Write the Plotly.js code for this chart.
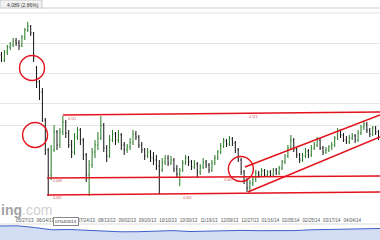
<!DOCTYPE html>
<html><head><meta charset="utf-8">
<script src="https://cdn.plot.ly/plotly-3.0.1.min.js"></script>
<style>html,body{margin:0;padding:0;background:#fff}#chart{width:380px;height:240px}</style>
</head><body><div id="chart"></div>
<script>
// ---- price bars (open/high/low/close) ----
const openP = [4.171,4.166,4.174,4.179,4.181,4.185,4.183,4.180,4.189,4.196,
4.200,4.193,4.158,4.144,4.134,4.106,4.076,4.051,4.076,4.094,
4.081,4.094,4.104,4.093,4.081,4.074,4.089,4.096,4.086,4.071,
4.051,4.061,4.074,4.081,4.088,4.101,4.078,4.070,4.086,4.092,
4.086,4.091,4.081,4.076,4.079,4.084,4.092,4.089,4.081,4.076,
4.070,4.074,4.068,4.066,4.060,4.056,4.064,4.068,4.063,4.066,
4.057,4.052,4.056,4.063,4.068,4.064,4.059,4.062,4.054,4.059,
4.064,4.061,4.056,4.063,4.068,4.074,4.080,4.085,4.082,4.087,
4.083,4.076,4.066,4.054,4.045,4.038,4.043,4.047,4.053,4.051,
4.055,4.051,4.054,4.051,4.056,4.053,4.058,4.064,4.070,4.078,
4.086,4.077,4.071,4.066,4.070,4.075,4.071,4.078,4.081,4.086,
4.078,4.074,4.076,4.079,4.081,4.088,4.095,4.091,4.086,4.084,
4.088,4.090,4.086,4.093,4.099,4.102,4.096,4.092,4.098,4.094];
const highP = [4.174,4.176,4.181,4.184,4.188,4.188,4.186,4.191,4.198,4.204,
4.201,4.194,4.160,4.146,4.138,4.108,4.078,4.081,4.101,4.096,
4.098,4.110,4.106,4.096,4.086,4.093,4.099,4.098,4.088,4.073,
4.066,4.078,4.086,4.094,4.110,4.103,4.081,4.091,4.096,4.094,
4.096,4.093,4.084,4.082,4.088,4.096,4.095,4.091,4.084,4.078,
4.078,4.076,4.074,4.071,4.066,4.068,4.071,4.071,4.070,4.068,
4.061,4.058,4.066,4.071,4.070,4.066,4.066,4.064,4.062,4.068,
4.066,4.063,4.066,4.071,4.076,4.083,4.088,4.087,4.090,4.089,
4.085,4.078,4.068,4.056,4.048,4.046,4.050,4.056,4.055,4.058,
4.057,4.056,4.056,4.058,4.058,4.060,4.066,4.072,4.081,4.091,
4.088,4.079,4.073,4.073,4.078,4.077,4.081,4.084,4.089,4.088,
4.080,4.079,4.081,4.084,4.090,4.098,4.097,4.093,4.090,4.091,
4.093,4.092,4.096,4.101,4.104,4.104,4.098,4.100,4.100,4.096];
const lowP = [4.164,4.164,4.171,4.176,4.179,4.180,4.176,4.179,4.186,4.194,
4.190,4.164,4.138,4.126,4.104,4.071,4.030,4.046,4.074,4.076,
4.078,4.091,4.088,4.078,4.068,4.071,4.086,4.081,4.066,4.044,
4.030,4.058,4.068,4.076,4.086,4.074,4.064,4.068,4.084,4.081,
4.083,4.076,4.071,4.073,4.076,4.081,4.086,4.078,4.073,4.066,
4.068,4.064,4.061,4.056,4.032,4.054,4.061,4.060,4.061,4.054,
4.048,4.040,4.054,4.061,4.060,4.056,4.057,4.048,4.051,4.057,
4.058,4.053,4.054,4.061,4.066,4.072,4.078,4.079,4.080,4.080,
4.073,4.064,4.051,4.042,4.034,4.035,4.040,4.044,4.048,4.049,
4.049,4.049,4.049,4.050,4.051,4.051,4.056,4.062,4.068,4.076,
4.074,4.068,4.063,4.064,4.068,4.068,4.069,4.076,4.079,4.076,
4.071,4.072,4.074,4.076,4.079,4.086,4.088,4.084,4.082,4.082,
4.086,4.083,4.084,4.091,4.096,4.093,4.089,4.090,4.091,4.086];
const closeP = [4.166,4.174,4.179,4.181,4.185,4.183,4.180,4.189,4.196,4.200,
4.193,4.168,4.144,4.134,4.122,4.076,4.051,4.076,4.094,4.081,
4.094,4.104,4.093,4.081,4.074,4.089,4.096,4.086,4.071,4.051,
4.061,4.074,4.081,4.088,4.101,4.078,4.070,4.086,4.092,4.086,
4.091,4.081,4.076,4.079,4.084,4.092,4.089,4.081,4.076,4.070,
4.074,4.068,4.066,4.060,4.056,4.064,4.068,4.063,4.066,4.057,
4.052,4.056,4.063,4.068,4.064,4.059,4.062,4.054,4.059,4.064,
4.061,4.056,4.063,4.068,4.074,4.080,4.085,4.082,4.087,4.083,
4.076,4.066,4.054,4.045,4.038,4.043,4.047,4.053,4.051,4.055,
4.051,4.054,4.051,4.056,4.053,4.058,4.064,4.070,4.078,4.086,
4.077,4.071,4.066,4.070,4.075,4.071,4.078,4.081,4.086,4.078,
4.074,4.076,4.079,4.081,4.088,4.095,4.091,4.086,4.084,4.088,
4.090,4.086,4.093,4.099,4.102,4.096,4.092,4.098,4.094,4.089];

// ---- x-axis date labels (bar index -> label); the cursor label sits at index 22 ----
const tickIdx = [1,8,15,29,36,43,50,57,64,71,78,85,92,99,106,113,120,127];
const tickLabels = ["05/07/13","05/27/13","06/14/13","07/24/13","08/13/13","09/02/13","09/20/13","10/10/13","10/30/13","11/19/13","12/09/13","12/27/13","01/16/14","02/05/14","02/25/14","03/17/14","04/04/14","04/24/14"];
const cursorIdx = 22;
const cursorLabel = "07/04/2013";

// ---- grid levels ----
const gridLevels = [4.183, 4.153, 4.123, 4.101];

// ---- drawn trend / channel lines: start/end in bar index / price ----
const lineStartX = [21.0, 15.6, 15.6, 84.3, 83.3];
const lineStartY = [4.111, 4.048, 4.031, 4.034, 4.059];
const lineEndX   = [129.5, 129.5, 129.5, 129.5, 129.5];
const lineEndY   = [4.114, 4.050, 4.034, 4.089, 4.111];

// ---- highlight circles ----
const circleX = [10.45, 11.5, 81.9];
const circleY = [4.158, 4.091, 4.057];

// ---- level labels on lines ----
const levelX = [16.8, 16.8, 22.0, 61.5, 75.5, 84.0];
const levelY = [4.045, 4.028, 4.107, 4.028, 4.046, 4.109];
const levelText = ["4.048", "4.031", "4.111", "4.032", "4.049", "4.113"];

// ---- navigator series ----
const navX = [0,1,2,3,4,5,6,7,8,9,10,11,12,13,14,15,16,17,18,19,20,21,22];
const navY = [14,14.2,12.5,10.2,10.5,9.8,8.8,8.2,8.3,9,9.4,8.5,9,9.4,9.6,9.3,9,9.4,10.2,10.4,10.6,11,11.5];

const RED = '#e3141c';
const barIdx = openP.map((_, i) => i);
const H = 240;
const py = p => 1 - p / H; // pixel row -> paper fraction (layout chrome only)

const traces = [
  {type:'ohlc', x: barIdx, open: openP, high: highP, low: lowP, close: closeP,
   increasing:{line:{color:'#237a23', width:1}}, decreasing:{line:{color:'#111', width:1}},
   tickwidth:0.25, hoverinfo:'skip', xaxis:'x', yaxis:'y'}
];
for (let k = 0; k < lineStartX.length; k++) {
  traces.push({type:'scatter', mode:'lines', x:[lineStartX[k], lineEndX[k]], y:[lineStartY[k], lineEndY[k]],
    line:{color:RED, width:1.6}, hoverinfo:'skip', xaxis:'x', yaxis:'y'});
}
traces.push({type:'scatter', mode:'markers', x: circleX, y: circleY,
  marker:{symbol:'circle-open', size:25, color:RED, line:{color:RED, width:1.4}}, hoverinfo:'skip', xaxis:'x', yaxis:'y', cliponaxis:false});
traces.push({type:'scatter', mode:'lines', x: navX, y: navY, fill:'tozeroy', fillcolor:'#d3ddf4',
  line:{color:'#3f5fc8', width:1}, hoverinfo:'skip', xaxis:'x2', yaxis:'y2'});

const annotations = [
  {xref:'paper', yref:'paper', x:5/380, y:py(4.5), xanchor:'left', yanchor:'middle', showarrow:false,
   text:'4.089 (2.86%)', font:{size:5, color:'#333', family:'Arial'}},
  {xref:'paper', yref:'paper', x:-1/380, y:py(210), xanchor:'left', yanchor:'middle', showarrow:false,
   text:'<b>ing</b><span style="color:#cfcfcf">.com</span>', font:{size:14, color:'#a4a4a4', family:'Arial'}},
  {xref:'x', yref:'paper', x:cursorIdx, y:py(221), xanchor:'center', yanchor:'middle', showarrow:false,
   text:cursorLabel, font:{size:4.2, color:'#222', family:'Arial'}, bgcolor:'#fff', bordercolor:'#888', borderwidth:1, borderpad:1}
];
for (let k = 0; k < levelX.length; k++) {
  annotations.push({xref:'x', yref:'y', x:levelX[k], y:levelY[k], xanchor:'left', yanchor:'middle', showarrow:false,
    text:levelText[k], font:{size:3.5, color:'#c55', family:'Arial'}});
}

const shapes = [
  {type:'rect', xref:'paper', yref:'paper', x0:0, x1:42/380, y0:py(8), y1:py(0), fillcolor:'#f3f3f3', line:{color:'#c8c8c8', width:1}, layer:'below'},
  {type:'line', xref:'paper', yref:'paper', x0:42/380, x1:1, y0:py(8), y1:py(8), line:{color:'#cfcfcf', width:1}},
  {type:'line', xref:'paper', yref:'paper', x0:0, x1:1, y0:py(13), y1:py(13), line:{color:'#e2e2e2', width:1}},
  {type:'line', xref:'paper', yref:'paper', x0:0, x1:1, y0:py(224), y1:py(224), line:{color:'#dddddd', width:1}}
];

const layout = {
  width:380, height:240, margin:{l:0, r:0, t:0, b:0},
  paper_bgcolor:'#fff', plot_bgcolor:'#fff', showlegend:false,
  xaxis:{domain:[0,1], range:[-0.5,129.5], tickvals:tickIdx, ticktext:tickLabels, ticks:'', ticklabelstandoff:3,
    tickfont:{size:4.5, color:'#555', family:'Arial'}, showgrid:false, zeroline:false, showline:false,
    rangeslider:{visible:false}, anchor:'y', fixedrange:true},
  yaxis:{domain:[py(213), py(13)], range:[4.013, 4.213], tickvals:gridLevels, showticklabels:false,
    gridcolor:'#e6e6e6', gridwidth:1, zeroline:false, showline:false, fixedrange:true},
  xaxis2:{domain:[0,1], range:[0,22], visible:false, anchor:'y2', fixedrange:true},
  yaxis2:{domain:[0, py(224)], range:[0,16], visible:false, anchor:'x2', fixedrange:true},
  annotations, shapes
};
Plotly.newPlot('chart', traces, layout, {staticPlot:true, displayModeBar:false});
</script></body></html>
